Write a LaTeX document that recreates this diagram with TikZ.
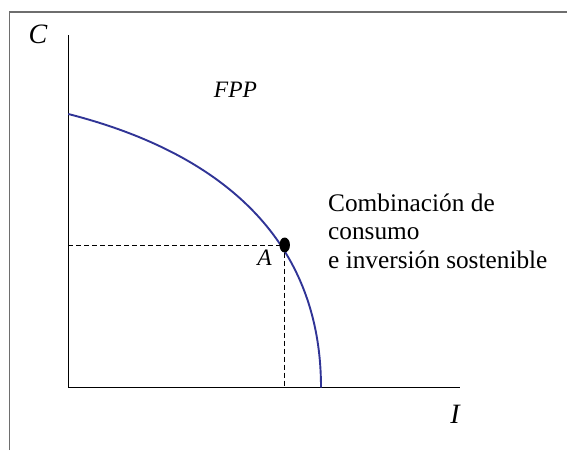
\documentclass[tikz,border=0pt]{standalone}
\usepackage{fontspec}
\setmainfont{Liberation Serif}
\usetikzlibrary{shapes}
\definecolor{ppfblue}{RGB}{48,52,150}
\definecolor{framegray}{RGB}{110,110,110}

\begin{document}
\begin{tikzpicture}[
    x=1pt,y=-1pt,
	axis/.style={draw, line width=1.4pt},
	guide/.style={draw, line width=0.8pt, dash pattern=on 5pt off 3pt},
	ppf/.style={draw=ppfblue, line width=1.9pt},
	dot/.style={ellipse, fill=black, minimum width=10.5pt, minimum height=15pt, inner sep=0},
	biglabel/.style={font=\fontsize{28}{30}\selectfont\itshape, inner sep=0},
	label/.style={font=\fontsize{23.5}{26}\selectfont\itshape, inner sep=0},
	note/.style={font=\fontsize{25.3}{28.5}\selectfont, align=left, inner sep=0}
]
\useasboundingbox (0,0) rectangle (567,450);

% frame (top and left only)
\draw[framegray, line width=1.3pt] (9.5,450) -- (9.5,12) -- (567,12);

\coordinate (O) at (68.3,387.5);
\coordinate (ytop) at (68.3,35);
\coordinate (xend) at (460,387.5);
\draw[axis] (ytop) -- (O) -- (xend);

\node[biglabel, anchor=base] (Clab) at (38,43) {C};
\node[biglabel, anchor=base] (Ilab) at (455,423) {I};

% frontier
\coordinate (ppfC) at (68.3,114);
\coordinate (ppfI) at (321,387.5);
\draw[ppf] (ppfC) .. controls (170,140) and (321,205) .. (ppfI);
\node[label, anchor=base] (fpp) at (235.5,97) {FPP};

\node[dot] (A) at (284.7,245) {};
\draw[guide] (A.center -| O) -- (A.center) -- (A.center |- O);
\node[label, anchor=base] (Alab) at (264.5,265) {A};

\node[note, anchor=base west] (comb) at (328,268) {Combinación de\\consumo\\e inversión sostenible};
\end{tikzpicture}
\end{document}
